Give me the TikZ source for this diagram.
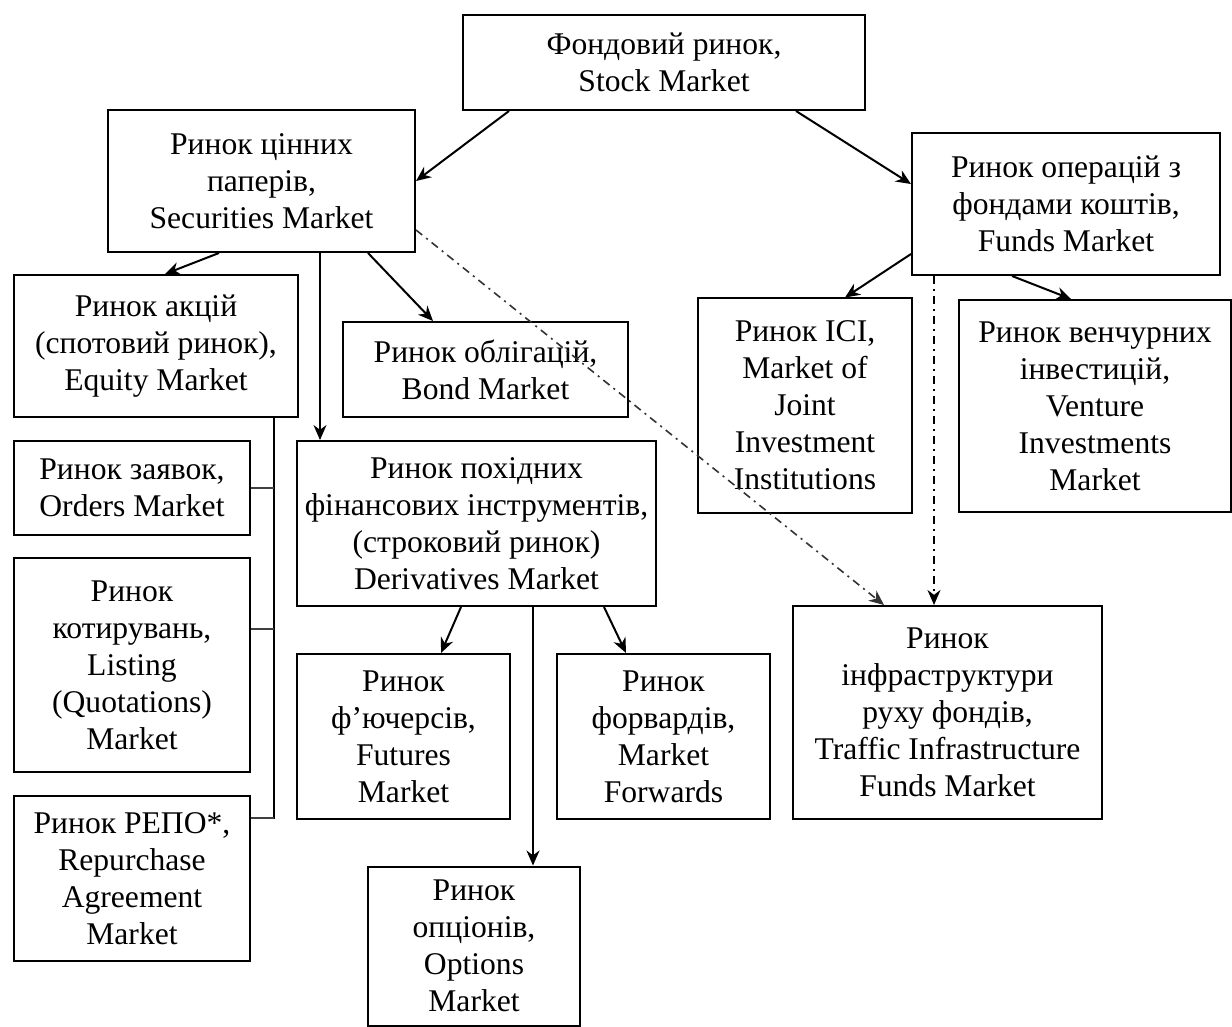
\documentclass[tikz,border=0pt]{standalone}
\usepackage{fontspec}
\setmainfont{Liberation Serif}
\usepackage{tikz}
\usetikzlibrary{arrows.meta,positioning,calc}

\begin{document}
\begin{tikzpicture}[x=0.5pt,y=-0.5pt,
  every node/.style={align=center,font=\fontsize{15.8pt}{18.5pt}\selectfont},
  market/.style={draw,line width=1pt,inner sep=0pt},
  flow/.style={-{Stealth[length=7.5pt,width=6.5pt]},line width=1pt},
  link/.style={flow,dash pattern=on 4pt off 2.5pt on 1pt off 2.5pt,line width=0.8pt},
  tick/.style={line width=0.7pt,black!75},
  bus/.style={line width=0.9pt}]

    \useasboundingbox (0,0) rectangle (1232,1027);

    \node[market,minimum width=201pt,minimum height=47.5pt] (stock) at (664,62.5)
        {Фондовий ринок,\\Stock Market};
    \node[market,minimum width=153.5pt,minimum height=71pt] (securities) at (261.5,181)
        {Ринок цінних\\паперів,\\Securities Market};
    \node[market,minimum width=154pt,minimum height=71pt] (funds) at (1066,204)
        {Ринок операцій з\\фондами коштів,\\Funds Market};

    \node[market,minimum width=142pt,minimum height=71pt] (equity) at (156,346)
        {Ринок акцій\\(спотовий ринок),\\Equity Market};
    \node[market,minimum width=142.5pt,minimum height=47.5pt] (bond) at (485.5,369.5)
        {Ринок облігацій,\\Bond Market};
    \node[market,minimum width=107pt,minimum height=107pt] (ici) at (805,405.5)
        {Ринок ICI,\\Market of\\Joint\\Investment\\Institutions};
    \node[market,minimum width=136pt,minimum height=106pt] (venture) at (1095,406)
        {Ринок венчурних\\інвестицій,\\Venture\\Investments\\Market};

    \node[market,minimum width=118pt,minimum height=47pt] (orders) at (132,488)
        {Ринок заявок,\\Orders Market};
    \node[market,minimum width=179.5pt,minimum height=82.5pt] (derivatives) at (476.5,523.5)
        {Ринок похідних\\фінансових інструментів,\\(строковий ринок)\\Derivatives Market};
    \node[market,minimum width=118pt,minimum height=107pt] (quotes) at (132,665)
        {Ринок\\котирувань,\\Listing\\(Quotations)\\Market};
    \node[market,minimum width=154.5pt,minimum height=106.5pt] (infra) at (947.5,712.5)
        {Ринок\\інфраструктури\\руху фондів,\\Traffic Infrastructure\\Funds Market};
    \node[market,minimum width=106.5pt,minimum height=82.5pt] (futures) at (403.5,736.5)
        {Ринок\\ф’ючерсів,\\Futures\\Market};
    \node[market,minimum width=106.5pt,minimum height=82.5pt] (forwards) at (663.5,736.5)
        {Ринок\\форвардів,\\Market\\Forwards};
    \node[market,minimum width=118pt,minimum height=82.5pt] (repo) at (132,878.5)
        {Ринок РЕПО*,\\Repurchase\\Agreement\\Market};
    \node[market,minimum width=106pt,minimum height=79.5pt] (options) at (474,946)
        {Ринок\\опціонів,\\Options\\Market};

    \coordinate (bus) at ([xshift=-12.5pt]equity.south east);
    \coordinate (secdown) at ([xshift=12pt]derivatives.north west);
    \coordinate (funddown) at ([xshift=71pt]infra.north west);
    \coordinate (optdown) at ([xshift=83pt]options.north west);

    \draw[flow] ([xshift=23.5pt]stock.south west) -- (securities.east);
    \draw[flow] ([xshift=-35pt]stock.south east) -- ([yshift=10pt]funds.west);

    \draw[flow] ([xshift=56pt]securities.south west) -- ([xshift=4.5pt]equity.north);
    \draw[flow] (secdown |- securities.south) -- (secdown);
    \draw[flow] ([xshift=-24pt]securities.south east) -- ([xshift=45.5pt]bond.north west);
    \draw[link,black!80] ([yshift=-24.5pt]securities.east) -- ([xshift=46pt]infra.north west);

    \draw[flow] ([yshift=-25pt]funds.west) -- ([xshift=20pt]ici.north);
    \draw[flow] ([xshift=50.5pt]funds.south west) -- ([xshift=56.5pt]venture.north west);
    \draw[link] (funddown |- funds.south) -- (funddown);

    \draw[bus] (bus) |- ([yshift=-11.5pt]repo.north east);
    \draw[tick] (orders.east) -- (orders.east -| bus);
    \draw[tick] ([yshift=-36pt]quotes.north east) -- ++(11.5pt,0);
    \draw[tick] ([yshift=-11.5pt]repo.north east) -- ++(11.5pt,0);

    \draw[flow] ([xshift=82.5pt]derivatives.south west) -- ([xshift=72.5pt]futures.north west);
    \draw[flow] ([xshift=154pt]derivatives.south west) -- ([xshift=35pt]forwards.north west);
    \draw[flow] (optdown |- derivatives.south) -- (optdown);
\end{tikzpicture}
\end{document}
